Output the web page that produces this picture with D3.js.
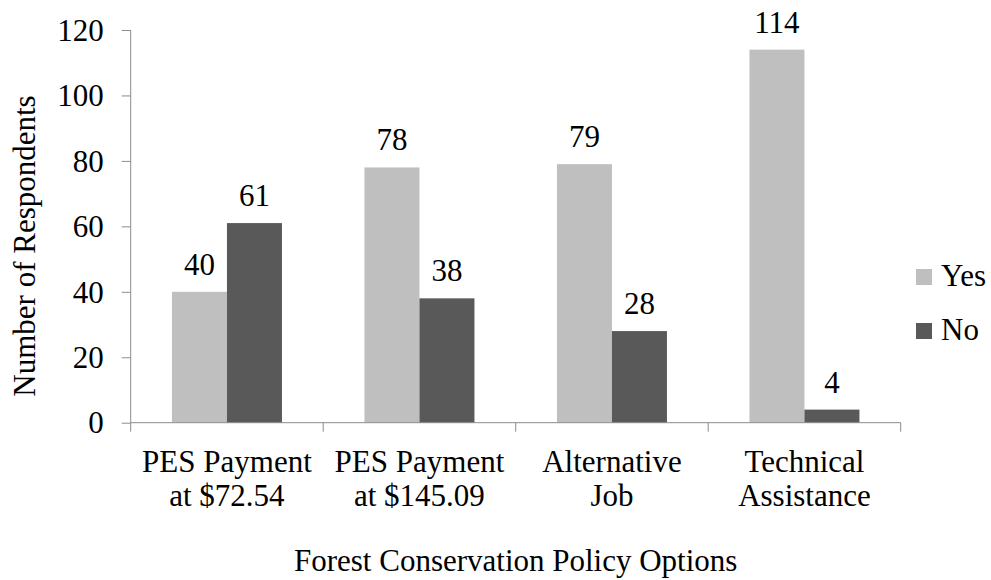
<!DOCTYPE html>
<html>
<head>
<meta charset="utf-8">
<script src="https://cdn.jsdelivr.net/npm/d3@7"></script>
<style>
  html, body { margin: 0; padding: 0; background: #ffffff; }
  svg { display: block; }
  text { font-family: "Liberation Serif", "Times New Roman", Times, serif; fill: #000; }
</style>
</head>
<body>
<svg id="chart" width="991" height="580"></svg>
<script>
const categories = ["PES Payment at $72.54", "PES Payment at $145.09", "Alternative Job", "Technical Assistance"];
const categoryLines = [["PES Payment", "at $72.54"], ["PES Payment", "at $145.09"], ["Alternative", "Job"], ["Technical", "Assistance"]];
const seriesNames = ["Yes", "No"];
const yesValues = [40, 78, 79, 114];
const noValues = [61, 38, 28, 4];
const yTicks = [0, 20, 40, 60, 80, 100, 120];
const colors = ["#BFBFBF", "#595959"];
const xTitle = "Forest Conservation Policy Options";
const yTitle = "Number of Respondents";

(function () {
const svg = d3.select("#chart");
const FS = 31;
const pLeft = 130.7, pRight = 900.7, pTop = 30, pBottom = 422.7;

const x = d3.scaleBand().domain(categories).range([pLeft, pRight]).paddingInner(0).paddingOuter(0);
const xs = d3.scaleBand().domain(seriesNames).range([0, x.bandwidth()]).paddingInner(0).paddingOuter(0.75);
const y = d3.scaleLinear().domain([0, 120]).range([pBottom, pTop]);
const color = d3.scaleOrdinal().domain(seriesNames).range(colors);

const data = categories.map((c, i) => ({cat: c, vals: [{s: "Yes", v: yesValues[i]}, {s: "No", v: noValues[i]}]}));

const axisColor = "#8c8c8c";

// Y axis
const yAxis = svg.append("g").attr("transform", `translate(${pLeft},0)`)
  .call(d3.axisLeft(y).tickValues(yTicks).tickSize(9).tickPadding(18).tickFormat(d3.format("d")));
yAxis.select(".domain").attr("stroke", axisColor).attr("d", `M0,${pTop}V${pBottom}`);
yAxis.selectAll(".tick line").attr("stroke", axisColor);
yAxis.selectAll(".tick text").attr("font-size", FS).attr("font-family", "Liberation Serif").attr("fill", "#000").attr("dy", "0.33em");

// Bars
const groups = svg.append("g").selectAll("g").data(data).join("g")
  .attr("transform", d => `translate(${x(d.cat)},0)`);
groups.selectAll("rect").data(d => d.vals).join("rect")
  .attr("x", d => xs(d.s))
  .attr("y", d => y(d.v))
  .attr("width", xs.bandwidth())
  .attr("height", d => y(0) - y(d.v))
  .attr("fill", d => color(d.s));
groups.selectAll("text.val").data(d => d.vals).join("text")
  .attr("class", "val")
  .attr("x", d => xs(d.s) + xs.bandwidth() / 2)
  .attr("y", d => y(d.v) - 17)
  .attr("text-anchor", "middle")
  .attr("font-size", FS)
  .text(d => d.v);

// X axis
const xAxisG = svg.append("g").attr("transform", `translate(0,${pBottom})`);
xAxisG.append("line").attr("x1", pLeft).attr("x2", pRight).attr("y1", 0).attr("y2", 0).attr("stroke", axisColor);
const boundaries = categories.map(c => x(c)).concat([x(categories[categories.length - 1]) + x.bandwidth()]);
xAxisG.selectAll("line.tk").data(boundaries).join("line").attr("class", "tk")
  .attr("x1", d => d).attr("x2", d => d).attr("y1", 0).attr("y2", 9).attr("stroke", axisColor);
const xl = xAxisG.selectAll("text.cl").data(categories).join("text").attr("class", "cl")
  .attr("text-anchor", "middle").attr("font-size", FS);
xl.each(function (c, i) {
  d3.select(this).selectAll("tspan").data(categoryLines[i]).join("tspan")
    .attr("x", x(c) + x.bandwidth() / 2)
    .attr("y", (d, j) => 472 - pBottom + j * 34.5)
    .text(d => d);
});

// Axis titles
svg.append("text").attr("x", (pLeft + pRight) / 2).attr("y", 571).attr("text-anchor", "middle")
  .attr("font-size", FS).text(xTitle);
svg.append("text").attr("transform", `translate(35,246) rotate(-90)`).attr("text-anchor", "middle")
  .attr("font-size", FS).text(yTitle);

// Legend
const legend = svg.append("g").selectAll("g").data(seriesNames).join("g")
  .attr("transform", (d, i) => `translate(916,${269 + i * 54})`);
legend.append("rect").attr("width", 16).attr("height", 16).attr("fill", d => color(d));
legend.append("text").attr("x", 25).attr("y", 17).attr("font-size", FS).text(d => d);
})();
</script>
</body>
</html>
